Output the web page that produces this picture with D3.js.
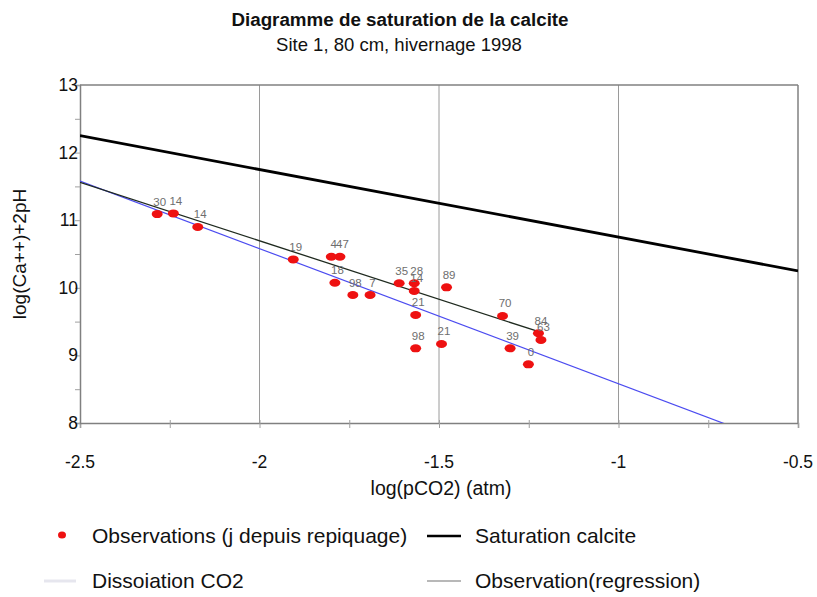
<!DOCTYPE html>
<html><head><meta charset="utf-8">
<script src="https://cdn.jsdelivr.net/npm/d3@7"></script>
<style>body{margin:0;background:#fff}svg{display:block;font-family:"Liberation Sans",Arial,sans-serif}</style>
</head><body><svg id="c" width="817" height="597"></svg>
<script>
// Observations
const obsX = [-2.285,-2.240,-2.172,-1.906,-1.800,-1.776,-1.790,-1.740,-1.692,-1.611,-1.569,-1.569,-1.479,-1.565,-1.565,-1.493,-1.323,-1.223,-1.216,-1.302,-1.251];
const obsY = [11.09,11.10,10.90,10.42,10.46,10.46,10.075,9.893,9.893,10.067,10.067,9.953,10.007,9.598,9.105,9.169,9.583,9.327,9.228,9.105,8.868];
const obsLabel = ["30","14","14","19","4","47","18","98","7","35","28","14","89","21","98","21","70","84","63","39","0"];
// Lines
const satX = [-2.5,-0.5], satY = [12.25,10.25];
const dissX = [-2.5,-0.5], dissY = [11.58,7.58];
const regX = [-2.5,-1.222], regY = [11.56,9.35];
const xTicks = [-2.5,-2,-1.5,-1,-0.5];
const yTicks = [8,9,10,11,12,13];
const gridX = [-2,-1.5,-1];

const svg = d3.select("#c");
const L=80,R=798,T=85,B=423;
const x = d3.scaleLinear().domain([-2.5,-0.5]).range([L,R]);
const y = d3.scaleLinear().domain([8,13]).range([B,T]);

svg.append("text").attr("x",400).attr("y",26).attr("text-anchor","middle")
  .attr("font-size",18.8).attr("font-weight","bold").attr("fill","#111").text("Diagramme de saturation de la calcite");
svg.append("text").attr("x",399).attr("y",51).attr("text-anchor","middle")
  .attr("font-size",18.5).attr("fill","#111").text("Site 1, 80 cm, hivernage 1998");

// grid
svg.append("g").selectAll("line").data(gridX).join("line")
  .attr("x1",d=>x(d)).attr("x2",d=>x(d)).attr("y1",T).attr("y2",B)
  .attr("stroke","#9a9a9a").attr("stroke-width",1);
// frame top/right
svg.append("line").attr("x1",L).attr("x2",R).attr("y1",T).attr("y2",T).attr("stroke","#808080").attr("stroke-width",1.5);
svg.append("line").attr("x1",R).attr("x2",R).attr("y1",T).attr("y2",B).attr("stroke","#808080").attr("stroke-width",1.5);

// axes
const xAxis = d3.axisBottom(x).tickValues(d3.range(-2.5,-0.49,0.25)).tickSize(5).tickFormat(()=> "");
const gx = svg.append("g").attr("transform",`translate(0,${B})`).call(xAxis);
gx.select(".domain").attr("stroke","#808080").attr("stroke-width",1.5);
gx.selectAll(".tick line").attr("stroke","#a0a0a0").attr("y1",-3);
svg.append("g").selectAll("text").data(xTicks).join("text")
  .attr("x",d=>x(d)).attr("y",468).attr("text-anchor","middle").attr("font-size",17.5).attr("fill","#111")
  .text(d=>String(d));
const yAxis = d3.axisLeft(y).tickValues(d3.range(8,13.01,0.5)).tickSize(5).tickFormat(()=> "");
const gy = svg.append("g").attr("transform",`translate(${L},0)`).call(yAxis);
gy.select(".domain").attr("stroke","#808080").attr("stroke-width",1.5);
gy.selectAll(".tick line").attr("stroke","#a0a0a0");
svg.append("g").selectAll("text").data(yTicks).join("text")
  .attr("x",78).attr("y",d=>y(d)+6).attr("text-anchor","end").attr("font-size",17.5).attr("fill","#111").text(d=>d);

svg.append("text").attr("x",441).attr("y",495).attr("text-anchor","middle").attr("font-size",19.5).attr("fill","#111").text("log(pCO2) (atm)");
svg.append("text").attr("transform","translate(26,254) rotate(-90)").attr("text-anchor","middle").attr("font-size",19).attr("fill","#111").text("log(Ca++)+2pH");

// clip
svg.append("clipPath").attr("id","pc").append("rect").attr("x",L).attr("y",T).attr("width",R-L).attr("height",B-T);
const plot = svg.append("g").attr("clip-path","url(#pc)");
const line = d3.line().x(d=>x(d[0])).y(d=>y(d[1]));
plot.append("path").attr("d",line(d3.zip(dissX,dissY))).attr("stroke","#4b4bf0").attr("stroke-width",1.2).attr("fill","none");
plot.append("path").attr("d",line(d3.zip(regX,regY))).attr("stroke","#1f2a1f").attr("stroke-width",1.3).attr("fill","none");
plot.append("path").attr("d",line(d3.zip(satX,satY))).attr("stroke","#000").attr("stroke-width",2.8).attr("fill","none");

// points
const pts = d3.range(obsX.length);
plot.append("g").selectAll("ellipse").data(pts).join("ellipse")
  .attr("cx",i=>x(obsX[i])).attr("cy",i=>y(obsY[i])).attr("rx",5.5).attr("ry",4).attr("fill","#ee1111");
svg.append("g").selectAll("text").data(pts).join("text")
  .attr("x",i=>x(obsX[i])+2.5).attr("y",i=>y(obsY[i])-8.5).attr("text-anchor","middle")
  .attr("font-size",11.5).attr("fill","#6e6e6e").text(i=>obsLabel[i]);

// legend
const lg = svg.append("g").attr("font-size",21).attr("fill","#111");
lg.append("ellipse").attr("cx",62).attr("cy",535).attr("rx",4).attr("ry",3.5).attr("fill","#ee1111");
lg.append("text").attr("x",92).attr("y",543).text("Observations (j depuis repiquage)");
lg.append("line").attr("x1",427).attr("x2",461).attr("y1",536).attr("y2",536).attr("stroke","#000").attr("stroke-width",2.5);
lg.append("text").attr("x",475).attr("y",543).text("Saturation calcite");
lg.append("line").attr("x1",44).attr("x2",76).attr("y1",581).attr("y2",581).attr("stroke","#e6e6ee").attr("stroke-width",3);
lg.append("text").attr("x",92).attr("y",588).text("Dissoiation CO2");
lg.append("line").attr("x1",427).attr("x2",461).attr("y1",581).attr("y2",581).attr("stroke","#a0a0a0").attr("stroke-width",1.3);
lg.append("text").attr("x",475).attr("y",588).text("Observation(regression)");
</script></body></html>
